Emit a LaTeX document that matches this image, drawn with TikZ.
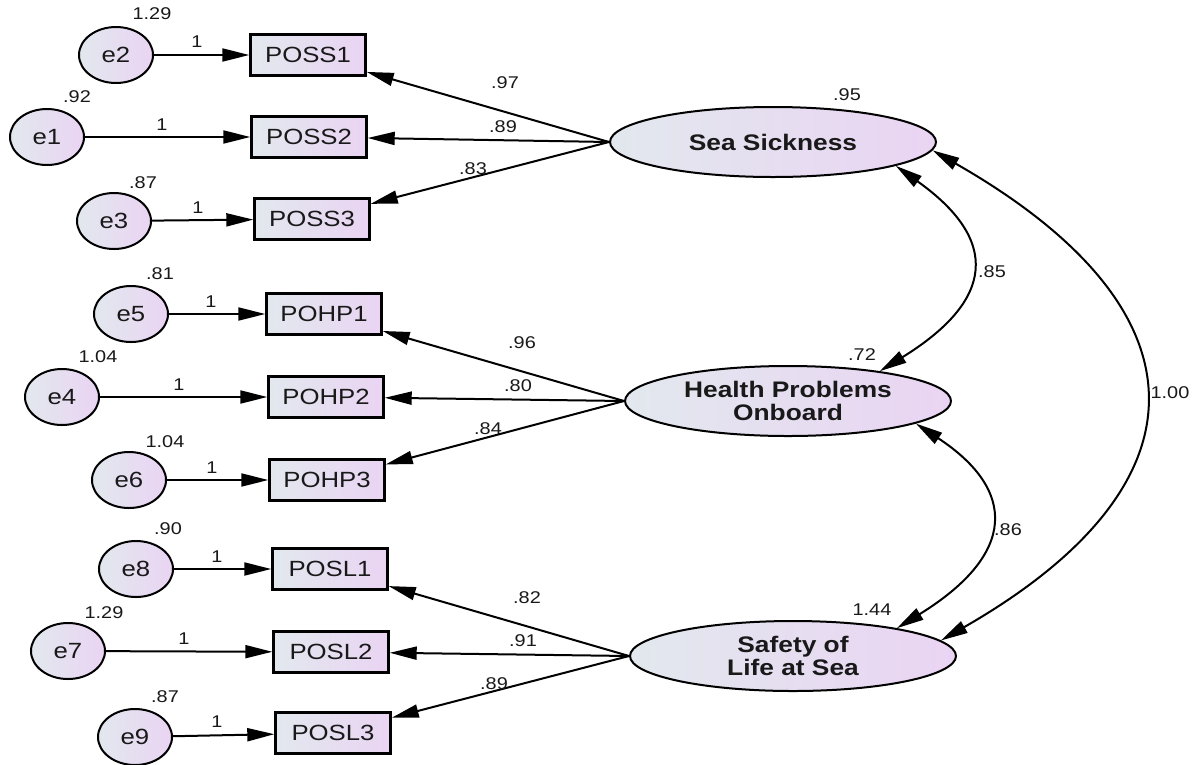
\documentclass[tikz,border=0pt]{standalone}
\usepackage{fontspec}
\setmainfont{Liberation Sans}[FakeStretch=1.17]
\usetikzlibrary{shapes.geometric,arrows.meta}
\definecolor{cA}{RGB}{226,232,238}
\definecolor{cB}{RGB}{234,212,243}
\definecolor{txt}{RGB}{25,25,25}
\begin{document}
\begin{tikzpicture}[x=1pt,y=-1pt,
  errnode/.style={ellipse,draw=black,line width=2pt,left color=cA,right color=cB,
    minimum width=74pt,minimum height=56pt,inner sep=0pt,font=\fontsize{22}{24}\selectfont,text=txt},
  obsnode/.style={rectangle,draw=black,line width=2.4pt,left color=cA,right color=cB,
    minimum width=115pt,minimum height=41pt,inner sep=0pt,font=\fontsize{22}{24}\selectfont,text=txt},
  latnode/.style={ellipse,draw=black,line width=2pt,left color=cA,right color=cB,
    minimum width=326pt,minimum height=70pt,inner sep=0pt,align=center,
    font=\fontsize{22.5}{23}\bfseries\selectfont,text=txt},
  numlbl/.style={inner sep=0pt,font=\fontsize{17}{19}\selectfont,text=txt},
  arr/.style={line width=2pt,-{Triangle[length=27pt,width=13pt]}},
  cov/.style={line width=2pt,{Triangle[length=27pt,width=13pt]}-{Triangle[length=27pt,width=13pt]}}
]
\useasboundingbox[fill=white] (0,0) rectangle (1196,764);

% error terms
\node[errnode] (e2) at (116,55) {e2};
\node[errnode] (e1) at (47,137) {e1};
\node[errnode] (e3) at (114,221) {e3};
\node[errnode] (e5) at (131,314) {e5};
\node[errnode] (e4) at (62,397) {e4};
\node[errnode] (e6) at (129,480) {e6};
\node[errnode] (e8) at (136,569) {e8};
\node[errnode] (e7) at (68,651) {e7};
\node[errnode] (e9) at (135,737) {e9};

% observed
\node[obsnode] (poss1) at (308,55) {POSS1};
\node[obsnode] (poss2) at (309,137) {POSS2};
\node[obsnode] (poss3) at (312,219) {POSS3};
\node[obsnode] (pohp1) at (324,314) {POHP1};
\node[obsnode] (pohp2) at (326,397) {POHP2};
\node[obsnode] (pohp3) at (327,480) {POHP3};
\node[obsnode] (posl1) at (330,569) {POSL1};
\node[obsnode] (posl2) at (331,652) {POSL2};
\node[obsnode] (posl3) at (333,733) {POSL3};

% latent
\node[latnode] (ss) at (773,142) {Sea Sickness};
\node[latnode] (hpo) at (788,401) {Health Problems\\Onboard};
\node[latnode] (sls) at (793,656) {Safety of\\Life at Sea};

% error arrows
\draw[arr] (e2) -- (poss1);
\draw[arr] (e1) -- (poss2);
\draw[arr] (e3) -- (poss3);
\draw[arr] (e5) -- (pohp1);
\draw[arr] (e4) -- (pohp2);
\draw[arr] (e6) -- (pohp3);
\draw[arr] (e8) -- (posl1);
\draw[arr] (e7) -- (posl2);
\draw[arr] (e9) -- (posl3);

% loadings
\draw[arr] (ss.west) -- (poss1);
\draw[arr] (ss.west) -- (poss2);
\draw[arr] (ss.west) -- (poss3);
\draw[arr] (hpo.west) -- (pohp1);
\draw[arr] (hpo.west) -- (pohp2);
\draw[arr] (hpo.west) -- (pohp3);
\draw[arr] (sls.west) -- (posl1);
\draw[arr] (sls.west) -- (posl2);
\draw[arr] (sls.west) -- (posl3);

% covariances
\draw[cov] (ss.-11.3) .. controls (1000,240) and (995,300) .. (hpo.18.6);
\draw[cov] (hpo.-10.8) .. controls (1017,490) and (1017,554) .. (sls.15.3);
\draw[cov] (ss.-3.2) .. controls (1212,310) and (1212,485) .. (sls.6.2);

% variance labels
\node[numlbl] (v2) at (152,14) {1.29};
\node[numlbl] (v1) at (77,97) {.92};
\node[numlbl] (v3) at (143,183) {.87};
\node[numlbl] (v5) at (160,274) {.81};
\node[numlbl] (v4) at (98,357) {1.04};
\node[numlbl] (v6) at (165,442) {1.04};
\node[numlbl] (v8) at (168,529) {.90};
\node[numlbl] (v7) at (104,613) {1.29};
\node[numlbl] (v9) at (165,697) {.87};
\node[numlbl] (vss) at (847,95) {.95};
\node[numlbl] (vhpo) at (862,355) {.72};
\node[numlbl] (vsls) at (872,610) {1.44};

% fixed paths
\node[numlbl] (f2) at (197,42) {1};
\node[numlbl] (f1) at (162,125) {1};
\node[numlbl] (f3) at (198,208) {1};
\node[numlbl] (f5) at (211,302) {1};
\node[numlbl] (f4) at (179,385) {1};
\node[numlbl] (f6) at (212,468) {1};
\node[numlbl] (f8) at (217,557) {1};
\node[numlbl] (f7) at (184,639) {1};
\node[numlbl] (f9) at (217,722) {1};

% loading labels
\node[numlbl] (l1) at (505,83) {.97};
\node[numlbl] (l2) at (503,127) {.89};
\node[numlbl] (l3) at (473,169) {.83};
\node[numlbl] (l4) at (522,343) {.96};
\node[numlbl] (l5) at (518,386) {.80};
\node[numlbl] (l6) at (488,429) {.84};
\node[numlbl] (l7) at (527,598) {.82};
\node[numlbl] (l8) at (523,641) {.91};
\node[numlbl] (l9) at (494,684) {.89};

% covariance labels
\node[numlbl] (c1) at (992,272) {.85};
\node[numlbl] (c2) at (1008,530) {.86};
\node[numlbl] (c3) at (1170,393) {1.00};
\end{tikzpicture}
\end{document}
